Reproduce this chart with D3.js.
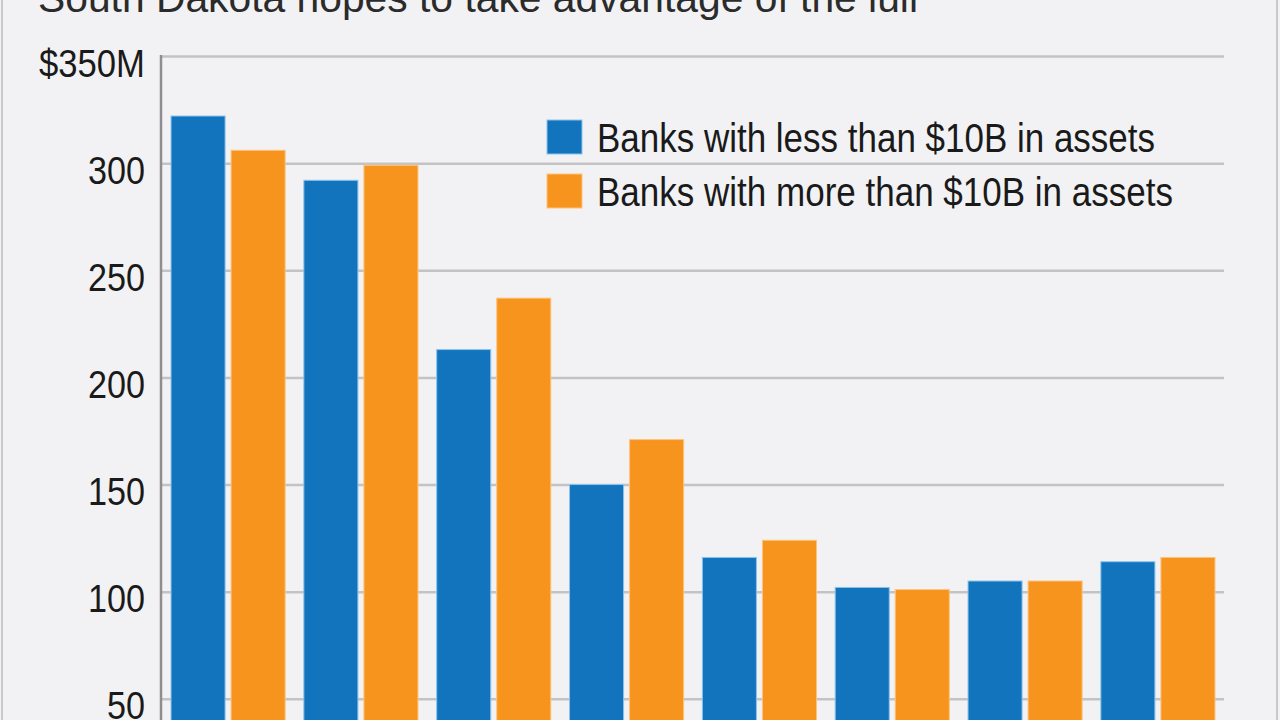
<!DOCTYPE html>
<html>
<head>
<meta charset="utf-8">
<script src="https://cdn.jsdelivr.net/npm/d3@7"></script>
<style>
  html, body { margin: 0; padding: 0; background: #f2f2f4; }
  svg { display: block; }
</style>
</head>
<body>
<svg id="chart" width="1280" height="720"></svg>
<script>
// ---- data ----
const title = "South Dakota hopes to take advantage of the lull";
const categories = ["Group 1", "Group 2", "Group 3", "Group 4", "Group 5", "Group 6", "Group 7", "Group 8"];
const seriesNames = ["Banks with less than $10B in assets", "Banks with more than $10B in assets"];
const smallBanks = [322, 292, 213, 150, 116, 102, 105, 114];
const largeBanks = [306, 299, 237, 171, 124, 101, 105, 116];
const tickValues = [50, 100, 150, 200, 250, 300, 350];
const tickLabels = ["50", "100", "150", "200", "250", "300", "$350M"];

// ---- layout ----
const W = 1280, H = 720;
const plotLeft = 162, plotRight = 1224;
const colors = ["#1174bd", "#f7941e"];
const edgeColors = ["#8cc3ec", "#fbc47f"];

const svg = d3.select("#chart");

// background + frame
svg.append("rect").attr("width", W).attr("height", H).attr("fill", "#f2f2f4");
svg.append("line").attr("x1", 2).attr("x2", 2).attr("y1", 0).attr("y2", H)
  .attr("stroke", "#c9c9cb").attr("stroke-width", 2);
svg.append("line").attr("x1", 1277).attr("x2", 1277).attr("y1", 0).attr("y2", H)
  .attr("stroke", "#c9c9cb").attr("stroke-width", 2);

// title (cropped at top, as in the reference)
svg.append("text")
  .attr("x", 38).attr("y", 12)
  .attr("font-family", "Liberation Sans, Arial, sans-serif")
  .attr("font-size", 40)
  .attr("fill", "#2b2b2b")
  .attr("textLength", 880)
  .attr("lengthAdjust", "spacingAndGlyphs")
  .text(title);

// scales
const y = d3.scaleLinear().domain([0, 350]).range([806, 56]);
const x0 = d3.scaleBand().domain(categories).range([plotLeft, plotRight])
  .paddingInner(0.141).paddingOuter(0.068);
const x1 = d3.scaleBand().domain([0, 1]).range([0, x0.bandwidth()]).paddingInner(0.1);

// gridlines
const grid = svg.append("g").attr("transform", `translate(${plotLeft},0)`)
  .call(d3.axisLeft(y).tickValues(tickValues).tickSize(-(plotRight - plotLeft)).tickFormat(""));
grid.select(".domain").remove();
grid.selectAll(".tick line").attr("stroke", "#c3c3c5").attr("stroke-width", 2.5);

// bars
const data = categories.map((c, i) => ({ cat: c, vals: [smallBanks[i], largeBanks[i]] }));
const groups = svg.append("g").selectAll("g").data(data).join("g")
  .attr("transform", d => `translate(${x0(d.cat)},0)`);
groups.selectAll("rect").data(d => d.vals.map((v, k) => ({ v, k }))).join("rect")
  .attr("x", d => x1(d.k))
  .attr("y", d => y(d.v))
  .attr("width", x1.bandwidth())
  .attr("height", d => y(0) - y(d.v))
  .attr("fill", d => colors[d.k])
  .attr("stroke", d => edgeColors[d.k])
  .attr("stroke-width", 1);

// y axis line
svg.append("line").attr("x1", plotLeft - 1).attr("x2", plotLeft - 1)
  .attr("y1", y(350) - 1).attr("y2", H)
  .attr("stroke", "#8e8e90").attr("stroke-width", 2.5);

// y tick labels
const yAxis = svg.append("g").attr("transform", `translate(${plotLeft},0)`)
  .call(d3.axisLeft(y).tickValues(tickValues).tickSize(0).tickPadding(17)
    .tickFormat((d, i) => tickLabels[i]));
yAxis.select(".domain").remove();
yAxis.selectAll(".tick text")
  .attr("font-family", "Liberation Sans Narrow, Arial Narrow, sans-serif")
  .attr("font-size", 39)
  .attr("fill", "#1a1a1a")
  .attr("dy", null)
  .attr("y", 20)
  .attr("textLength", (d, i) => tickLabels[i] === "$350M" ? 106 : tickLabels[i].length * 19)
  .attr("lengthAdjust", "spacingAndGlyphs");

// legend
const legend = svg.append("g").attr("transform", "translate(547,120)");
const legendWidths = [558, 576];
seriesNames.forEach((name, i) => {
  const g = legend.append("g").attr("transform", `translate(0,${i * 54})`);
  g.append("rect").attr("width", 35).attr("height", 34)
    .attr("fill", colors[i]).attr("stroke", edgeColors[i]).attr("stroke-width", 1);
  g.append("text")
    .attr("x", 50).attr("y", 32)
    .attr("font-family", "Liberation Sans Narrow, Arial Narrow, sans-serif")
    .attr("font-size", 40)
    .attr("fill", "#1a1a1a")
    .attr("textLength", legendWidths[i])
    .attr("lengthAdjust", "spacingAndGlyphs")
    .text(name);
});
</script>
</body>
</html>
